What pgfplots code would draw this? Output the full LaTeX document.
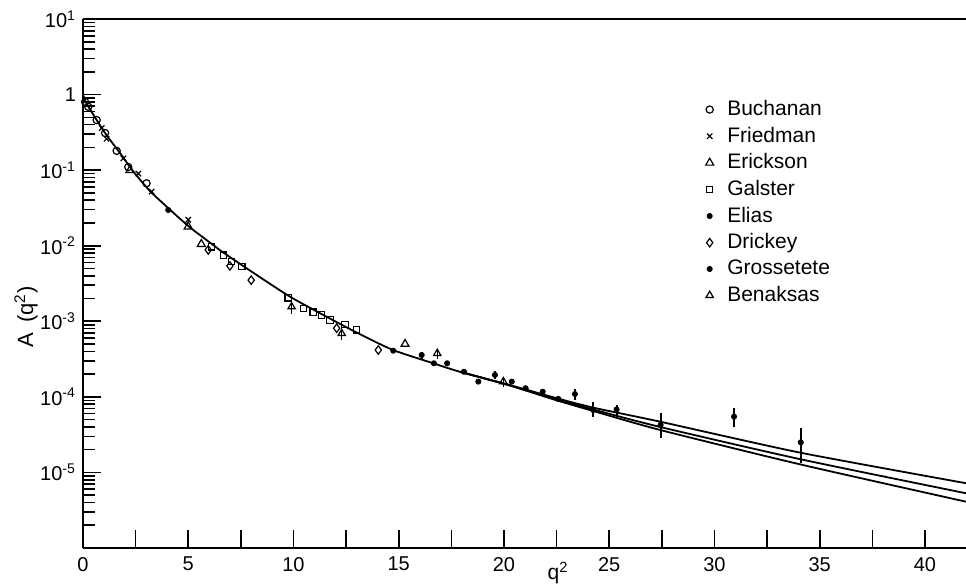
\documentclass[border=0pt]{standalone}
\usepackage{fontspec}
\setmainfont{Liberation Sans}
\usepackage{pgfplots}
\pgfplotsset{compat=1.18}
\begin{document}
\begin{tikzpicture}
\begin{axis}[
  name=ax,
  scale only axis, width=441.5pt, height=264.5pt,
  xmin=0, xmax=41.95, ymode=log, ymin=1e-6, ymax=10,
  axis lines*=left, axis line style={-, line width=1pt},
  tick align=inside,
  xtick={0,5,10,15,20,25,30,35,40},
  extra x ticks={2.5,7.5,12.5,17.5,22.5,27.5,32.5,37.5},
  extra x tick labels={},
  ytick={1e-5,1e-4,1e-3,1e-2,1e-1,1,10},
  yticklabels={10\textsuperscript{-5},10\textsuperscript{-4},10\textsuperscript{-3},10\textsuperscript{-2},10\textsuperscript{-1},1,10\textsuperscript{1}},
  minor ytick={2e-6,3e-6,4e-6,5e-6,6e-6,7e-6,8e-6,9e-6,
               2e-5,3e-5,4e-5,5e-5,6e-5,7e-5,8e-5,9e-5,
               2e-4,3e-4,4e-4,5e-4,6e-4,7e-4,8e-4,9e-4,
               2e-3,3e-3,4e-3,5e-3,6e-3,7e-3,8e-3,9e-3,
               2e-2,3e-2,4e-2,5e-2,6e-2,7e-2,8e-2,9e-2,
               0.2,0.3,0.4,0.5,0.6,0.7,0.8,0.9,
               2,3,4,5,6,7,8,9},
  major tick length=9pt, minor tick length=6pt,
  every tick/.style={black, line width=0.8pt},
  /pgf/number format/assume math mode=true,
  tick label style={font=\fontsize{10}{11}\selectfont},
  xticklabel style={yshift=-1pt},
  xlabel={q\textsuperscript{2}},
  ylabel={A\hspace{0.45em}(q\textsuperscript{2})},
  xlabel style={at={(axis description cs:0.538,0)}, anchor=base, yshift=-16pt,
    font=\fontsize{10.5}{11}\selectfont},
  ylabel style={at={(axis description cs:-0.0566,0.437)}, anchor=base,
    font=\fontsize{11}{12}\selectfont},
  legend style={draw=none, fill=none, at={(0.695,0.86)}, anchor=north west,
    font=\fontsize{10.5}{12}\selectfont, row sep=1.2pt,
    nodes={inner sep=1.5pt}},
  legend cell align=left,
  legend image code/.code={\draw[#1] plot coordinates {(0pt,0pt)}; \path (-3pt,0pt) (7pt,0pt);},
]
% fitted curves
\addplot[forget plot, black, line width=0.9pt, smooth, tension=0.4] coordinates {
(0,1.0) (0.17,0.76) (0.65,0.46) (1.12,0.29) (1.76,0.168) (2.39,0.096)
(3.18,0.053) (4.13,0.030) (5.08,0.0175) (6.19,0.0102) (6.67,0.0081)
(8.25,0.0041) (9.83,0.00212) (11.42,0.00121) (13.0,0.00071) (14.7,0.00042)
(16.64,0.000278) (17.9,0.000215) (20.28,0.000143) (22.5,9.6e-5)
(24.24,7.2e-5) (27.41,4.7e-5) (34.06,1.83e-5) (41.95,7.2e-6)};
\addplot[forget plot, black, line width=0.9pt, smooth, tension=0.4] coordinates {
(17.9,0.000215) (20.28,0.000142) (22.5,9.3e-5)
(24.24,6.8e-5) (27.41,4.0e-5) (34.06,1.5e-5) (41.95,5.3e-6)};
\addplot[forget plot, black, line width=0.9pt, smooth, tension=0.4] coordinates {
(17.9,0.000215) (20.28,0.000141) (22.5,9.0e-5)
(24.24,6.5e-5) (27.41,3.65e-5) (34.06,1.28e-5) (41.95,4.1e-6)};
% data
\addplot[only marks, mark=o, mark size=1.8pt, black, line width=0.6pt] coordinates {
(0.1,0.80) (0.25,0.69) (0.65,0.46) (1.05,0.31) (1.6,0.18) (2.15,0.11) (3.02,0.067)};
\addlegendentry{Buchanan}
\addplot[only marks, mark=x, mark size=1.9pt, black, line width=0.6pt] coordinates {
(0.89,0.36) (1.12,0.26) (1.92,0.143) (2.63,0.09) (3.26,0.052) (5.0,0.022)};
\addlegendentry{Friedman}
\addplot[only marks, mark=triangle, mark size=2.3pt, black, line width=0.6pt] coordinates {
(2.23,0.10) (5.0,0.0179) (5.62,0.0105) (15.3,5.0e-4)};
\addlegendentry{Erickson}
\addplot[only marks, mark=square, mark size=1.6pt, black, line width=0.6pt] coordinates {
(6.11,0.0097) (6.67,0.0075) (7.06,0.0062) (7.54,0.0053) (9.75,0.00205)
(10.47,0.00148) (10.94,0.00132) (11.34,0.00121) (11.73,0.00104)
(12.45,0.00091) (13.0,0.00077)};
\addlegendentry{Galster}
\addplot[only marks, mark=*, mark size=1.3pt, black] coordinates {
(4.05,0.0297) (14.74,4.08e-4) (16.67,2.78e-4) (17.3,2.78e-4) (18.1,2.15e-4)
(18.78,1.59e-4) (20.37,1.59e-4) (21.03,1.30e-4) (21.84,1.17e-4) (22.58,9.4e-5)};
\addlegendentry{Elias}
\addplot[forget plot, only marks, mark=*, mark size=1.3pt, black,
  error bars/.cd, y dir=both, y explicit, error mark=none,
  error bar style={line width=1pt}] coordinates {
(24.24,6.7e-5) += (0,1.9e-5) -= (0,1.34e-5)
(25.35,6.8e-5) += (0,1.0e-5) -= (0,1.34e-5)
(27.44,4.25e-5) += (0,1.8e-5) -= (0,1.43e-5)
(30.93,5.47e-5) += (0,1.58e-5) -= (0,1.44e-5)
(34.1,2.5e-5) += (0,1.34e-5) -= (0,1.18e-5)};
\addplot[only marks, mark=diamond, mark size=2.1pt, black, line width=0.6pt] coordinates {
(5.95,0.0088) (6.98,0.0054) (7.99,0.0035) (12.05,8.1e-4) (14.03,4.17e-4)};
\addlegendentry{Drickey}
\addplot[only marks, mark=*, mark size=1.3pt, black,
  error bars/.cd, y dir=both, y explicit, error mark=none,
  error bar style={line width=0.9pt}] coordinates {
(16.09,3.58e-4) += (0,0.4e-4) -= (0,0.4e-4)
(19.57,1.95e-4) += (0,0.25e-4) -= (0,0.25e-4)
(23.37,1.09e-4) += (0,1.8e-5) -= (0,1.8e-5)};
\addlegendentry{Grossetete}
\addplot[only marks, mark=triangle, mark size=2.1pt, black, line width=0.6pt,
  error bars/.cd, y dir=both, y explicit, error mark=none,
  error bar style={line width=0.7pt}] coordinates {
(9.91,0.00156) += (0,0.0003) -= (0,0.0003)
(12.29,6.9e-4) += (0,1.2e-4) -= (0,1.2e-4)
(16.83,3.76e-4) += (0,0.6e-4) -= (0,0.6e-4)
(19.97,1.59e-4) += (0,0.25e-4) -= (0,0.25e-4)};
\addlegendentry{Benaksas}
\end{axis}
\draw[line width=1pt] (ax.north west) -- (ax.north east);
\pgfresetboundingbox
\useasboundingbox (-41.5pt,-19.5pt) rectangle (441.5pt,274pt);
\end{tikzpicture}
\end{document}
